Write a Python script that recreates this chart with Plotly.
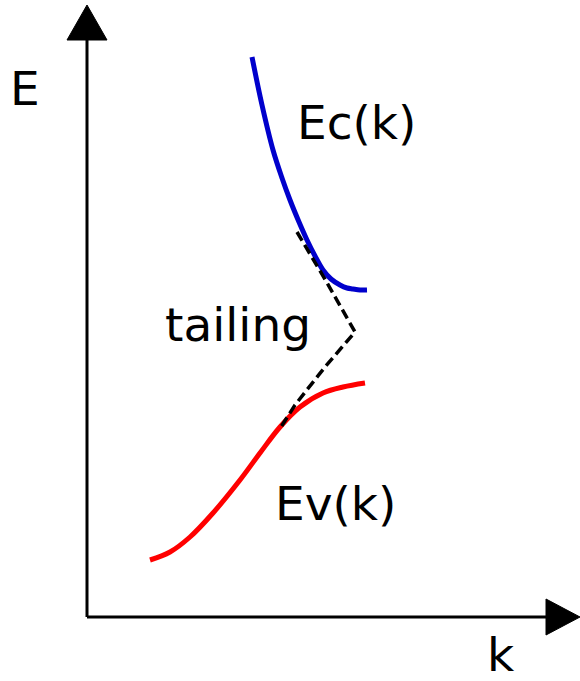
import plotly.graph_objects as go

H = 681
# Curves (x = k position, y = E position)
ec_k = [252, 262, 273, 282, 290, 299, 307, 315, 323, 331, 340, 347, 353, 360, 367]
ec_e = [H - v for v in [57, 105, 150, 178, 200, 222, 240, 256, 270, 279, 285, 288, 289, 290, 290]]

ev_k = [150, 170, 190, 213, 240, 260, 280, 300, 323, 343, 365]
ev_e = [H - v for v in [560, 552, 537, 513, 480, 453, 427, 407, 393, 387, 383]]

tail_k = [297, 326, 355, 325, 295, 281]
tail_e = [H - v for v in [232, 281, 332, 367, 405, 427]]

labels = ["E", "Ec(k)", "tailing", "Ev(k)", "k"]
label_x = [25, 356, 238, 335, 501]
label_y = [H - v for v in [88, 122, 324, 503, 654]]

FONT = "DejaVu Sans"

fig = go.Figure()
fig.add_trace(go.Scatter(x=ec_k, y=ec_e, mode="lines", line=dict(color="#0000cc", width=5, shape="spline", smoothing=1.0), hoverinfo="skip"))
fig.add_trace(go.Scatter(x=ev_k, y=ev_e, mode="lines", line=dict(color="#ff0000", width=5, shape="spline", smoothing=1.0), hoverinfo="skip"))
fig.add_trace(go.Scatter(x=tail_k, y=tail_e, mode="lines", line=dict(color="black", width=3.5, dash="10px,5px"), hoverinfo="skip"))

ox, oy = 87, H - 617
shapes = [
    dict(type="line", x0=ox, y0=oy, x1=ox, y1=H - 40, line=dict(color="black", width=3), xref="x", yref="y"),
    dict(type="line", x0=ox, y0=oy, x1=546, y1=oy, line=dict(color="black", width=3), xref="x", yref="y"),
    dict(type="path", path=f"M 67 {H-40} L 107 {H-40} L 87 {H-5} Z", fillcolor="black", line=dict(color="black", width=1), xref="x", yref="y"),
    dict(type="path", path=f"M 546 {H-599} L 546 {H-635} L 580 {H-617} Z", fillcolor="black", line=dict(color="black", width=1), xref="x", yref="y"),
]

annotations = [dict(x=x, y=y, text=t, showarrow=False, xref="x", yref="y",
                    font=dict(family=FONT, size=47, color="black"), xanchor="center", yanchor="middle")
               for t, x, y in zip(labels, label_x, label_y)]

fig.update_layout(
    width=580, height=681, margin=dict(l=0, r=0, t=0, b=0),
    paper_bgcolor="white", plot_bgcolor="white", showlegend=False,
    xaxis=dict(range=[0, 580], visible=False, fixedrange=True),
    yaxis=dict(range=[0, 681], visible=False, fixedrange=True),
    shapes=shapes, annotations=annotations,
)
fig.write_html("out.html", config={"displayModeBar": False})
